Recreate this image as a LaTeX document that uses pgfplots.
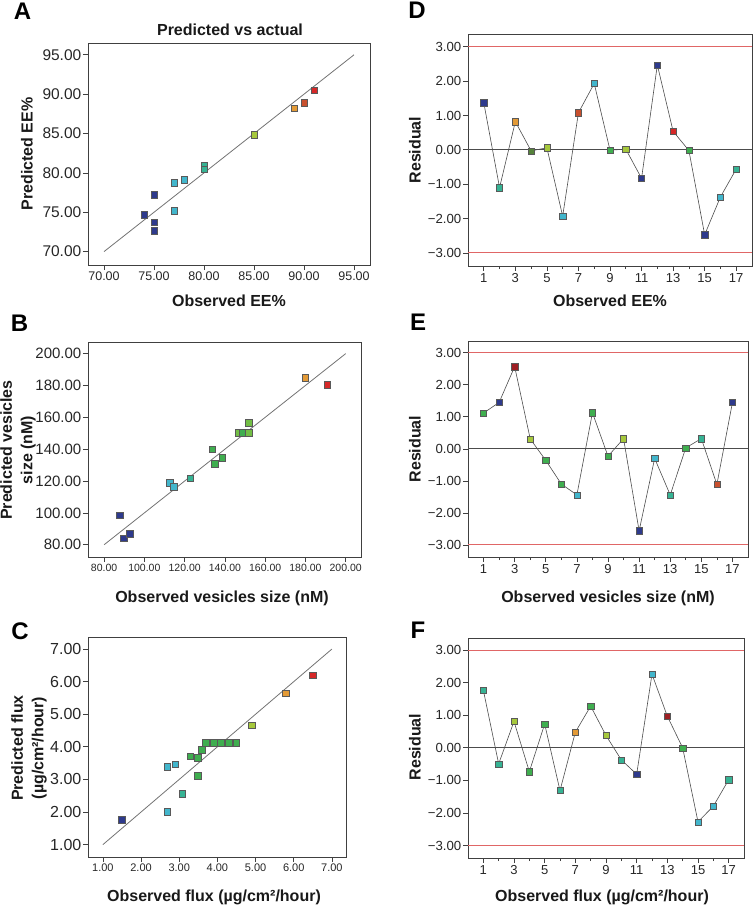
\documentclass[border=0pt]{standalone}
\usepackage{fontspec}
\setmainfont{Liberation Sans}
\usepackage{pgfplots}
\usepackage{pgfplotstable}
\pgfplotsset{compat=1.18}
\definecolor{cnavy}{HTML}{2E3A8C}
\definecolor{ccyan}{HTML}{42B6CC}
\definecolor{cteal}{HTML}{36B394}
\definecolor{cgreen}{HTML}{3FAE4F}
\definecolor{clgreen}{HTML}{72BE45}
\definecolor{cygreen}{HTML}{A6C83C}
\definecolor{colive}{HTML}{55823A}
\definecolor{corange}{HTML}{E39A36}
\definecolor{cbrick}{HTML}{C8502E}
\definecolor{cred}{HTML}{D62828}
\definecolor{cdred}{HTML}{9E1F24}
\definecolor{cline}{HTML}{E06666}

\pgfplotstableread{
x y c
1 1.37 nv
2 -1.10 te
3 0.82 or
4 -0.03 ol
5 0.06 yg
6 -1.93 cy
7 1.08 br
8 1.93 cy
9 -0.01 gr
10 0.02 yg
11 -0.83 nv
12 2.47 nv
13 0.54 rd
14 -0.02 gr
15 -2.47 nv
16 -1.37 cy
17 -0.56 te
}\resD
\pgfplotstableread{
x y c
1 1.12 gr
2 1.45 nv
3 2.57 dr
4 0.31 yg
5 -0.36 gr
6 -1.10 gr
7 -1.44 cy
8 1.13 gr
9 -0.23 gr
10 0.32 yg
11 -2.56 nv
12 -0.30 cy
13 -1.44 te
14 0.03 gr
15 0.32 te
16 -1.11 br
17 1.45 nv
}\resE
\pgfplotstableread{
x y c
1 1.77 te
2 -0.49 te
3 0.81 yg
4 -0.73 gr
5 0.73 gr
6 -1.31 te
7 0.48 or
8 1.28 gr
9 0.38 yg
10 -0.37 te
11 -0.81 nv
12 2.26 cy
13 0.97 dr
14 0.00 gr
15 -2.27 cy
16 -1.79 cy
17 -0.98 te
}\resF

\pgfplotsset{
  panel/.style={
    scale only axis, anchor=north west,
    axis line style={draw=black!75, line width=0.8pt},
    tick pos=left, tick align=outside,
    major tick length=5pt, minor tick length=3pt,
    tick style={draw=black!75, line width=0.7pt},
    /pgf/number format/assume math mode=true,
    yticklabel style={text=black!85, inner sep=1.5pt},
    xticklabel style={text=black!85, inner sep=2pt},
  },
  respanel/.style={panel,
    xmin=0, xmax=18, ymin=-3.38, ymax=3.37,
    xtick={1,3,...,17}, minor xtick={2,4,...,16},
    ytick={-3,-2,-1,0,1,2,3},
    yticklabels={−3.00,−2.00,−1.00,0.00,1.00,2.00,3.00},
    xticklabel style={font=\fontsize{13}{13}\selectfont},
    yticklabel style={font=\fontsize{13.2}{13}\selectfont},
  },
  cls/.style={scatter, only marks, scatter src=explicit symbolic,
    mark=square*, mark size=#1,
    scatter/classes={
      nv={mark=square*, fill=cnavy, draw=black!65},
      cy={mark=square*, fill=ccyan, draw=black!65},
      te={mark=square*, fill=cteal, draw=black!65},
      gr={mark=square*, fill=cgreen, draw=black!65},
      lg={mark=square*, fill=clgreen, draw=black!65},
      yg={mark=square*, fill=cygreen, draw=black!65},
      ol={mark=square*, fill=colive, draw=black!65},
      or={mark=square*, fill=corange, draw=black!65},
      br={mark=square*, fill=cbrick, draw=black!65},
      rd={mark=square*, fill=cred, draw=black!65},
      dr={mark=square*, fill=cdred, draw=black!65}}},
  cls/.default=3.3pt,
  diag/.style={draw=black!55, line width=0.8pt, no marks},
  resline/.style={draw=black!70, line width=0.6pt, no marks},
  redline/.style={draw=cline, line width=1pt, no marks},
  zeroline/.style={draw=black!70, line width=1.1pt, no marks},
}

\begin{document}
\begin{tikzpicture}
\useasboundingbox (0,0) rectangle (755pt,-908pt);
\tikzset{
  lett/.style={font=\bfseries\fontsize{24}{24}\selectfont},
  lab/.style={font=\bfseries\fontsize{16}{20.5}\selectfont, text=black!90},
}

% ---------- A ----------
\begin{axis}[panel, at={(88pt,-43pt)}, width=282pt, height=222pt,
  xmin=68.4, xmax=96.6, ymin=68.3, ymax=96.5,
  xtick={70,75,80,85,90,95}, xticklabels={70.00,75.00,80.00,85.00,90.00,95.00},
  ytick={70,75,80,85,90,95}, yticklabels={70.00,75.00,80.00,85.00,90.00,95.00},
  xticklabel style={font=\fontsize{12.5}{13}\selectfont},
  yticklabel style={font=\fontsize{15.5}{16}\selectfont}]
\addplot[diag] coordinates {(70,70) (95,95)};
\addplot[cls] table[meta=c] {
x y c
74 74.7 nv
75 77.25 nv
75 73.73 nv
75 72.67 nv
77 78.73 cy
77 75.2 cy
78 79.15 cy
80 80.93 te
80 80.47 te
85 84.83 yg
89 88.2 or
90 88.94 br
91 90.5 rd
};
\end{axis}

% ---------- B ----------
\begin{axis}[panel, at={(88pt,-342pt)}, width=273pt, height=215pt,
  xmin=72, xmax=207.6, ymin=72.3, ymax=207.3,
  xtick={80,100,120,140,160,180,200}, xticklabels={80.00,100.00,120.00,140.00,160.00,180.00,200.00},
  ytick={80,100,120,140,160,180,200}, yticklabels={80.00,100.00,120.00,140.00,160.00,180.00,200.00},
  xticklabel style={font=\fontsize{10.5}{11}\selectfont},
  yticklabel style={font=\fontsize{15}{16}\selectfont}]
\addplot[diag] coordinates {(80,80) (200,200)};
\addplot[cls] table[meta=c] {
x y c
87.6 98.6 nv
89.6 84.0 nv
92.6 87.1 nv
112.7 118.95 cy
114.7 116.4 cy
122.8 121.9 te
133.7 140.1 gr
134.9 130.9 gr
138.7 134.8 gr
146.8 150.3 lg
148.9 150.3 gr
151.9 150.3 lg
151.9 156.8 lg
179.8 184.7 or
190.9 180.5 rd
};
\end{axis}

% ---------- C ----------
\begin{axis}[panel, at={(88pt,-637pt)}, width=258pt, height=220pt,
  xmin=0.61, xmax=7.37, ymin=0.62, ymax=7.37,
  xtick={1,2,...,7}, xticklabels={1.00,2.00,3.00,4.00,5.00,6.00,7.00},
  ytick={1,2,...,7}, yticklabels={1.00,2.00,3.00,4.00,5.00,6.00,7.00},
  xticklabel style={font=\fontsize{11}{11}\selectfont},
  yticklabel style={font=\fontsize{16}{16}\selectfont}]
\addplot[diag] coordinates {(1,1) (7,7)};
\addplot[cls] table[meta=c] {
x y c
1.49 1.76 nv
2.69 2.01 cy
2.69 3.40 cy
2.89 3.47 cy
3.08 2.56 te
3.29 3.71 gr
3.49 3.67 gr
3.49 3.12 gr
3.59 3.91 gr
3.70 4.12 gr
3.90 4.12 gr
4.09 4.12 gr
4.29 4.12 gr
4.49 4.12 gr
4.90 4.66 yg
5.79 5.64 or
6.49 6.20 rd
};
\end{axis}

% ---------- D ----------
\begin{axis}[respanel, at={(468pt,-34pt)}, width=284pt, height=232pt]
\addplot[redline] coordinates {(0,3) (18,3)};
\addplot[redline] coordinates {(0,-3) (18,-3)};
\addplot[zeroline] coordinates {(0,0) (18,0)};
\addplot[resline] table[x=x,y=y] {\resD};
\addplot[cls=3.1pt] table[x=x,y=y,meta=c] {\resD};
\end{axis}

% ---------- E ----------
\begin{axis}[respanel, at={(468pt,-341pt)}, width=280pt, height=216pt]
\addplot[redline] coordinates {(0,3) (18,3)};
\addplot[redline] coordinates {(0,-3) (18,-3)};
\addplot[zeroline] coordinates {(0,0) (18,0)};
\addplot[resline] table[x=x,y=y] {\resE};
\addplot[cls=3.1pt] table[x=x,y=y,meta=c] {\resE};
\end{axis}

% ---------- F ----------
\begin{axis}[respanel, at={(468pt,-638pt)}, width=276pt, height=220pt]
\addplot[redline] coordinates {(0,3) (18,3)};
\addplot[redline] coordinates {(0,-3) (18,-3)};
\addplot[zeroline] coordinates {(0,0) (18,0)};
\addplot[resline] table[x=x,y=y] {\resF};
\addplot[cls=3.1pt] table[x=x,y=y,meta=c] {\resF};
\end{axis}

% ---------- text ----------
\node[lab] at (230pt,-30pt) {Predicted vs actual};
\node[lett] at (22.5pt,-11pt) {A};
\node[lett] at (417pt,-10pt) {D};
\node[lett] at (19.5pt,-323pt) {B};
\node[lett] at (418pt,-322pt) {E};
\node[lett] at (20pt,-631pt) {C};
\node[lett] at (418pt,-630pt) {F};

\node[lab] at (229pt,-301pt) {Observed EE\%};
\node[lab] at (222pt,-598pt) {Observed vesicles size (nM)};
\node[lab] at (214pt,-897pt) {Observed flux (µg/cm²/hour)};
\node[lab] at (610pt,-301pt) {Observed EE\%};
\node[lab] at (608pt,-598pt) {Observed vesicles size (nM)};
\node[lab] at (602pt,-897pt) {Observed flux (µg/cm²/hour)};

\node[lab, rotate=90] at (27pt,-154pt) {Predicted EE\%};
\node[lab, rotate=90, align=center] at (18pt,-450pt) {Predicted vesicles\\size (nM)};
\node[lab, rotate=90, align=center] at (29pt,-748pt) {Predicted flux\\(µg/cm²/hour)};
\node[lab, rotate=90] at (415pt,-150pt) {Residual};
\node[lab, rotate=90] at (415pt,-449pt) {Residual};
\node[lab, rotate=90] at (415pt,-747pt) {Residual};
\end{tikzpicture}
\end{document}
